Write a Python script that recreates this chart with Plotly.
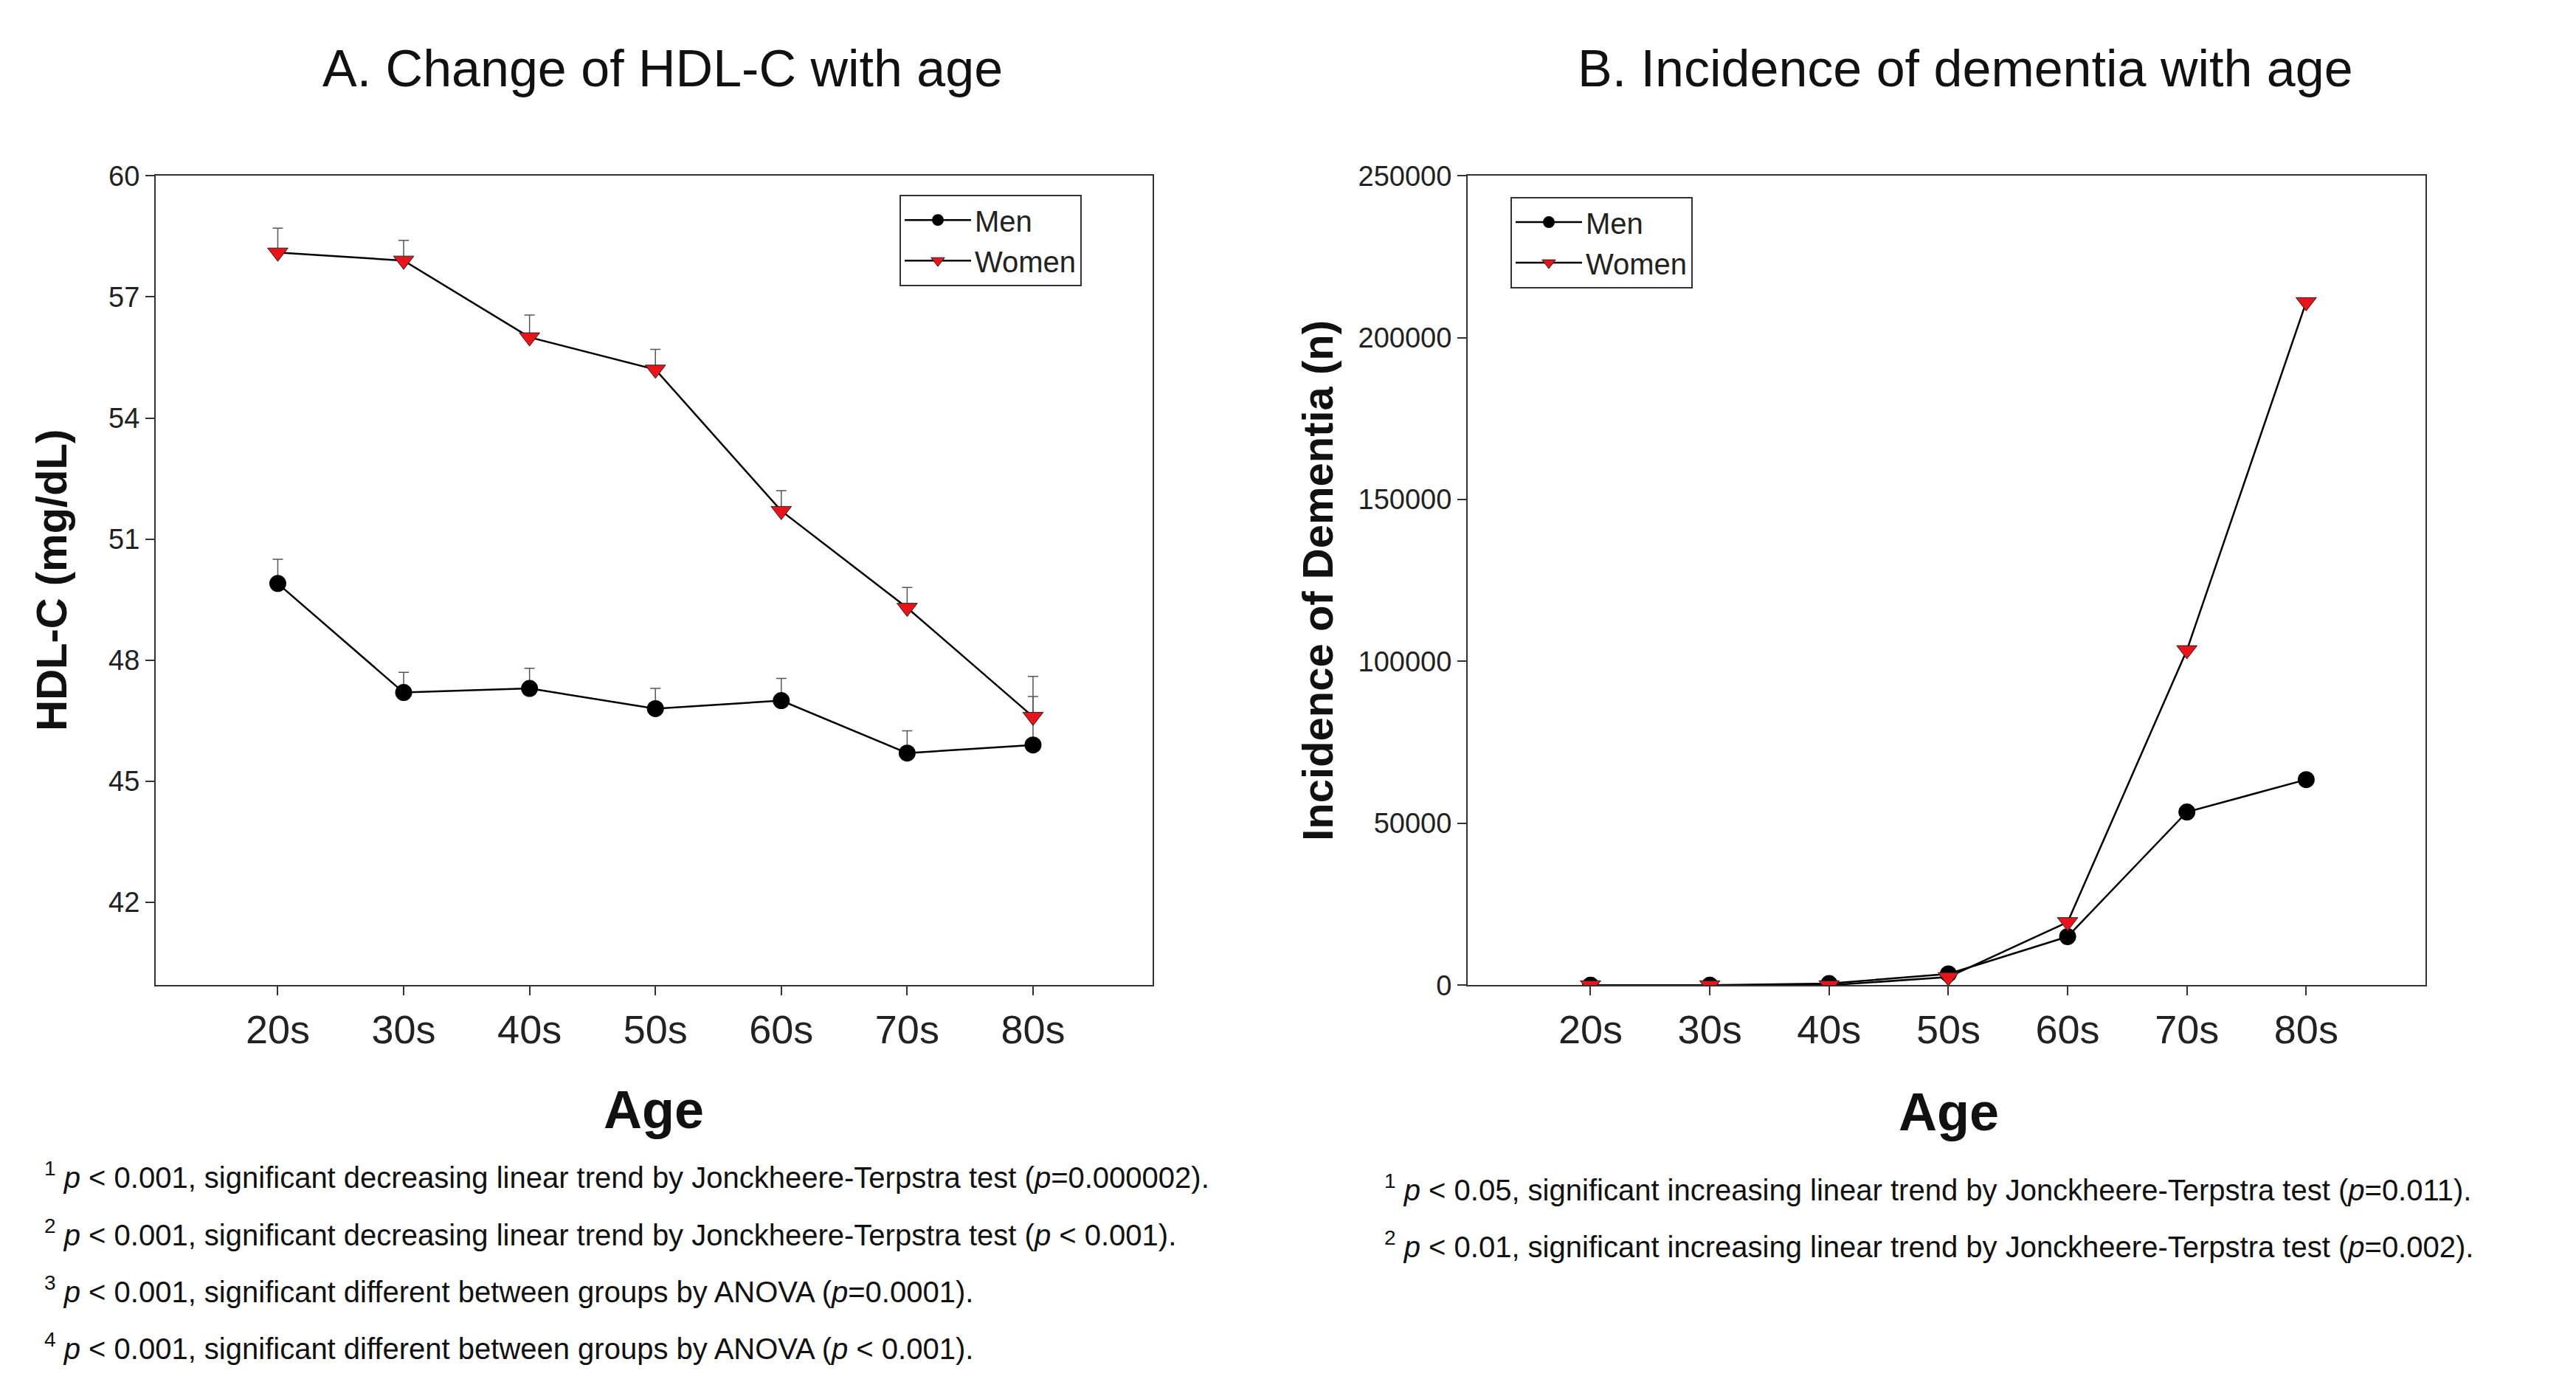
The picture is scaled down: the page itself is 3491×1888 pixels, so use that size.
import plotly.graph_objects as go

ages = ["20s", "30s", "40s", "50s", "60s", "70s", "80s"]
hdl_men = [49.9, 47.2, 47.3, 46.8, 47.0, 45.7, 45.9]
hdl_men_err = [0.6, 0.5, 0.5, 0.5, 0.55, 0.55, 1.2]
hdl_women = [58.1, 57.9, 56.0, 55.2, 51.7, 49.3, 46.6]
hdl_women_err = [0.6, 0.5, 0.55, 0.5, 0.5, 0.5, 1.0]
dem_men = [0, 0, 500, 3500, 15000, 53500, 63500]
dem_women = [0, 0, 0, 2500, 19500, 103500, 211000]
hdl_ticks = [42, 45, 48, 51, 54, 57, 60]
dem_ticks = [0, 50000, 100000, 150000, 200000, 250000]

W, H = 3491, 1888
FONT = "Liberation Sans, Arial, sans-serif"
fig = go.Figure()

def add(x, y, name, xa, ya, marker, err=None, show=True, legend="legend"):
    kw = {}
    if err is not None:
        kw["error_y"] = dict(type="data", array=err, arrayminus=[0]*len(err), symmetric=False,
                             color="#555", thickness=1.5, width=7)
    fig.add_trace(go.Scatter(x=x, y=y, name=name, mode="lines+markers", xaxis=xa, yaxis=ya,
                             line=dict(color="black", width=2.5), marker=marker,
                             legend=legend, showlegend=show, **kw))

men_m = dict(symbol="circle", size=23, color="black")
wom_m = dict(symbol="triangle-down", size=24, color="#e8141a", line=dict(color="#222", width=1))

add(ages, hdl_men, "Men", "x", "y", men_m, hdl_men_err)
add(ages, hdl_women, "Women", "x", "y", wom_m, hdl_women_err)
add(ages, dem_men, "Men", "x2", "y2", men_m, legend="legend2")
add(ages, dem_women, "Women", "x2", "y2", wom_m, legend="legend2")

ydom = [1 - 1336/H, 1 - 214/H]
axis_common = dict(showline=True, linecolor="#333", linewidth=2, mirror=True, ticks="outside",
                   ticklen=12, tickwidth=2, tickcolor="#333", showgrid=False, zeroline=False)
leg_common = dict(xanchor="left", yanchor="top", bordercolor="#333", borderwidth=2,
                  bgcolor="white", font=dict(size=40), itemwidth=90)
fig.update_layout(
    width=W, height=H, margin=dict(l=0, r=0, t=0, b=0),
    plot_bgcolor="white", paper_bgcolor="white",
    font=dict(family=FONT, color="#222"),
    xaxis=dict(domain=[203/W, 1554/W], range=[-0.97, 6.95], tickfont=dict(size=54), **axis_common),
    yaxis=dict(domain=ydom, range=[39.95, 60], tickvals=hdl_ticks, tickfont=dict(size=38), **axis_common),
    xaxis2=dict(domain=[1981/W, 3279/W], range=[-1.03, 7.0], tickfont=dict(size=54), anchor="y2", **axis_common),
    yaxis2=dict(domain=ydom, range=[0, 250000], tickvals=dem_ticks, tickformat="d", tickfont=dict(size=38),
                anchor="x2", **axis_common),
    legend=dict(x=1211/W, y=1-240/H, **leg_common),
    legend2=dict(x=2039/W, y=1-243/H, **leg_common),
)

ann = []
def A(text, x, y, size, xanchor="center", angle=0, bold=False):
    if bold:
        text = "<b>" + text + "</b>"
    ann.append(dict(text=text, x=x/W, y=1-y/H, xref="paper", yref="paper", showarrow=False,
                    xanchor=xanchor, yanchor="middle", textangle=angle, font=dict(size=size, family=FONT, color="#111")))

A("A. Change of HDL-C with age", 890, 65, 70)
A("B. Incidence of dementia with age", 2655, 65, 70)
A("HDL-C (mg/dL)", 62, 775, 58, angle=-90, bold=True)
A("Incidence of Dementia (n)", 1778, 775, 58, angle=-90, bold=True)
A("Age", 878, 1509, 72, bold=True)
A("Age", 2633, 1512, 72, bold=True)
notesA = [
    "<sup>1</sup> <i>p</i> &lt; 0.001, significant decreasing linear trend by Jonckheere-Terpstra test (<i>p</i>=0.000002).",
    "<sup>2</sup> <i>p</i> &lt; 0.001, significant decreasing linear trend by Jonckheere-Terpstra test (<i>p</i> &lt; 0.001).",
    "<sup>3</sup> <i>p</i> &lt; 0.001, significant different between groups by ANOVA (<i>p</i>=0.0001).",
    "<sup>4</sup> <i>p</i> &lt; 0.001, significant different between groups by ANOVA (<i>p</i> &lt; 0.001).",
]
for i, t in enumerate(notesA):
    A(t, 50, 1600 + i*79, 40, xanchor="left")
notesB = [
    "<sup>1</sup> <i>p</i> &lt; 0.05, significant increasing linear trend by Jonckheere-Terpstra test (<i>p</i>=0.011).",
    "<sup>2</sup> <i>p</i> &lt; 0.01, significant increasing linear trend by Jonckheere-Terpstra test (<i>p</i>=0.002).",
]
for i, t in enumerate(notesB):
    A(t, 1866, 1617 + i*79, 40, xanchor="left")
fig.update_layout(annotations=ann)
fig.write_html("out.html")
